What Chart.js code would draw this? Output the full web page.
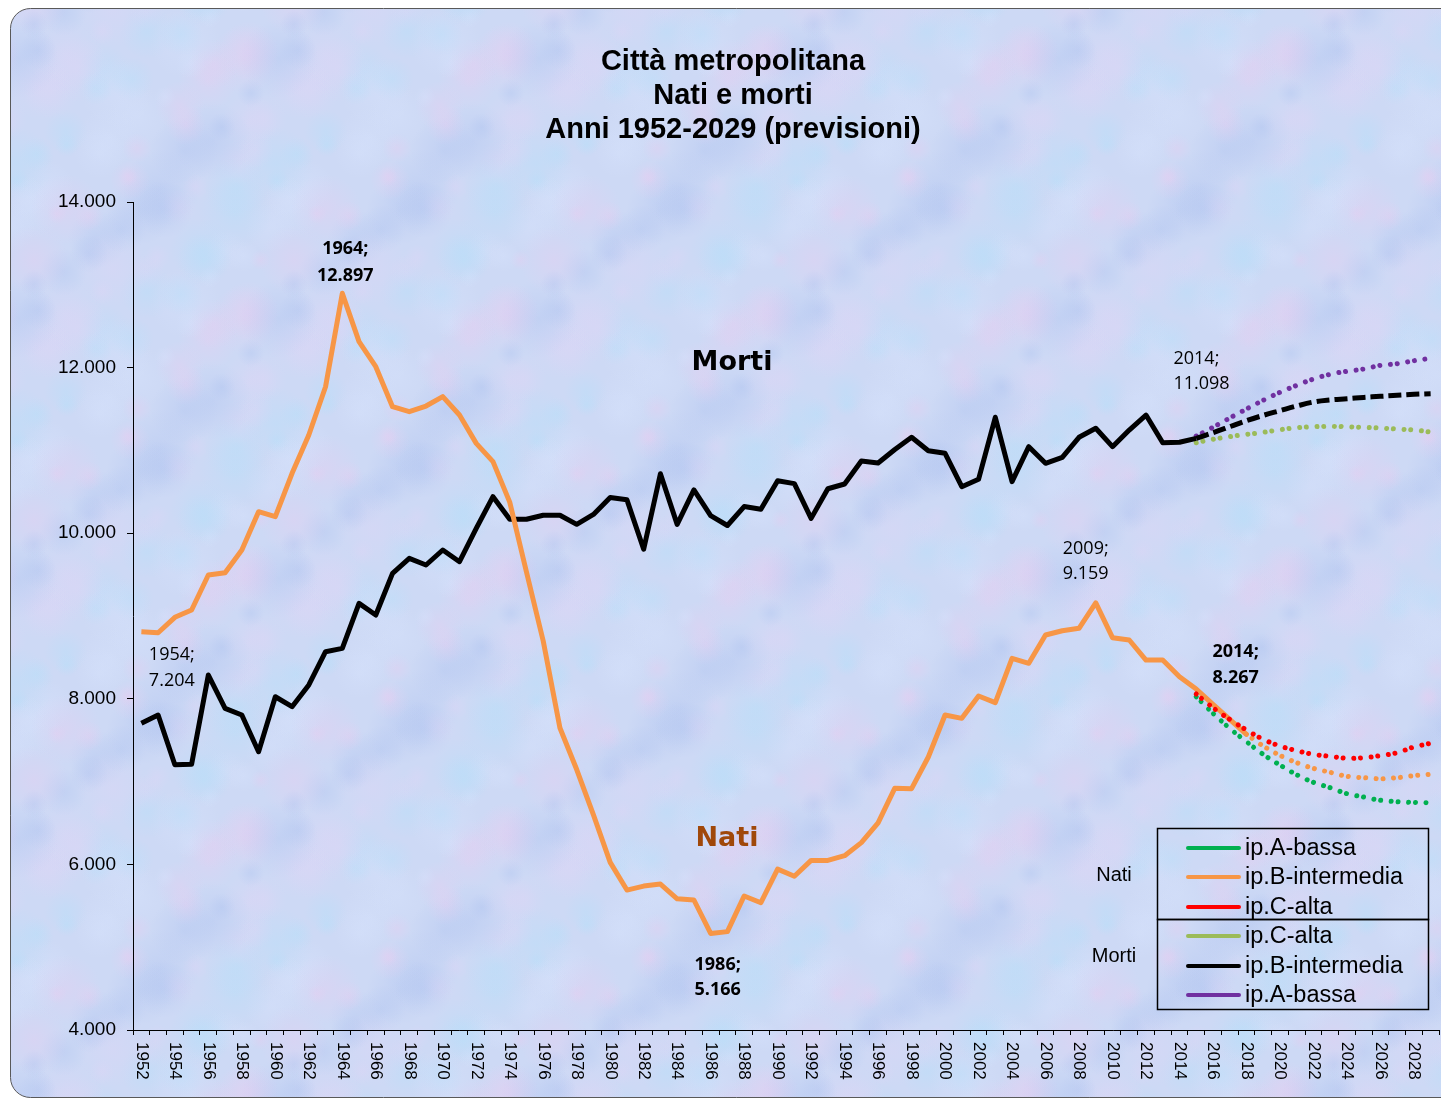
<!DOCTYPE html>
<html>
<head>
<meta charset="utf-8">
<script src="https://cdn.jsdelivr.net/npm/chart.js@4.4.1/dist/chart.umd.min.js"></script>
<style>
  html, body { margin: 0; padding: 0; background: #fff; }
  canvas { display: block; }
</style>
</head>
<body>
<canvas id="chart" width="1441" height="1098"></canvas>
<script>
// categories: one per year, 1952-2029
const years = Array.from({ length: 78 }, (_, i) => String(1952 + i));

// Nati, solid line 1952-2018
const natiStorici = [
  8810, 8798, 8984, 9072, 9495, 9523, 9797, 10260, 10200, 10723,
  11186, 11769, 12897, 12313, 12011, 11528, 11468, 11536, 11649, 11427,
  11085, 10864, 10375, 9531, 8698, 7647, 7146, 6597, 6024, 5690,
  5738, 5762, 5584, 5570, 5166, 5188, 5618, 5537, 5943, 5857,
  6048, 6048, 6105, 6263, 6501, 6921, 6915, 7297, 7804, 7764,
  8034, 7953, 8489, 8429, 8770, 8822, 8851, 9159, 8738, 8710,
  8468, 8468, 8267, 8118, 7933, 7752, 7571
];

// Morti, solid line 1952-2015
const mortiStorici = [
  7704, 7804, 7204, 7210, 8287, 7885, 7804, 7361, 8025, 7905,
  8167, 8569, 8609, 9153, 9012, 9515, 9696, 9616, 9797, 9656,
  10059, 10441, 10169, 10169, 10217, 10217, 10107, 10227, 10432, 10403,
  9807, 10718, 10107, 10523, 10212, 10093, 10322, 10289, 10633, 10599,
  10179, 10537, 10594, 10871, 10848, 11010, 11158, 10996, 10965, 10562,
  10651, 11400, 10622, 11045, 10844, 10916, 11158, 11267, 11045, 11246,
  11427, 11093, 11098, 11146
];

// projections (previsioni)
const natiA = [8025, 7825, 7643, 7482, 7329, 7200, 7083, 6991, 6926, 6854, 6814, 6774, 6757, 6749, 6745];       // from 2015
const natiB = [7571, 7430, 7317, 7228, 7160, 7112, 7064, 7047, 7035, 7047, 7071, 7088];                         // from 2018
const natiC = [8058, 7893, 7752, 7623, 7511, 7430, 7373, 7329, 7305, 7281, 7289, 7313, 7349, 7418, 7462];       // from 2015
const mortiC = [11093, 11134, 11166, 11194, 11218, 11250, 11274, 11286, 11290, 11286, 11278, 11270, 11258, 11246, 11222];
const mortiB = [11146, 11214, 11286, 11359, 11423, 11480, 11536, 11584, 11609, 11624, 11640, 11653, 11665, 11677, 11685];
const mortiA = [11174, 11279, 11391, 11500, 11605, 11701, 11786, 11862, 11919, 11955, 11983, 12027, 12047, 12083, 12112];

const titleLines = ['Città metropolitana', 'Nati e morti', 'Anni 1952-2029 (previsioni)'];

// put a series on the year axis, starting at a given year
function fromYear(start, values) {
  const out = years.map(() => null);
  const offset = start - 1952;
  values.forEach((v, i) => { out[offset + i] = v; });
  return out;
}

function fmt(v) {
  return (v / 1000).toFixed(3);
}

const ARIAL = '"Liberation Sans", Arial, sans-serif';
const CALIBRI = '"Open Sans", "Noto Sans", sans-serif';

const ORANGE = '#f79646';
const GREEN = '#00b050';
const RED = '#ff0000';
const OLIVE = '#9bbb59';
const PURPLE = '#7030a0';

// round dots in pairs, like the excel dotted style
const dots = [0.01, 6.8, 0.01, 10.6];

function makeTexture() {
  const size = 260;
  const c = document.createElement('canvas');
  c.width = size;
  c.height = size;
  const g = c.getContext('2d');
  g.fillStyle = '#cdd9f5';
  g.fillRect(0, 0, size, size);
  const tints = [[234, 204, 240, 0.35], [178, 224, 250, 0.35], [165, 188, 238, 0.28], [214, 226, 252, 0.4], [226, 212, 246, 0.3]];
  for (let i = 0; i < 70; i++) {
    const cx = (i * 97 + (i * i * 7) % 31) % size;
    const cy = (i * 59 + (i * i * 13) % 43) % size;
    const r = 10 + (i * 17) % 30;
    const t = tints[i % 5];
    for (const ox of [-size, 0, size]) {
      for (const oy of [-size, 0, size]) {
        const gr = g.createRadialGradient(cx + ox, cy + oy, 0, cx + ox, cy + oy, r);
        gr.addColorStop(0, `rgba(${t[0]},${t[1]},${t[2]},${t[3]})`);
        gr.addColorStop(1, `rgba(${t[0]},${t[1]},${t[2]},0)`);
        g.fillStyle = gr;
        g.fillRect(cx + ox - r, cy + oy - r, 2 * r, 2 * r);
      }
    }
  }
  return c;
}
const texture = makeTexture();

const backgroundPlugin = {
  id: 'sfondo',
  beforeDraw(chart) {
    const ctx = chart.ctx;
    ctx.save();
    ctx.fillStyle = '#ffffff';
    ctx.fillRect(0, 0, chart.width, chart.height);
    ctx.beginPath();
    ctx.roundRect(10.5, 8.5, chart.width + 20, chart.height - 9, 20);
    ctx.fillStyle = ctx.createPattern(texture, 'repeat');
    ctx.fill();
    ctx.strokeStyle = '#595959';
    ctx.lineWidth = 1;
    ctx.stroke();
    ctx.restore();
  }
};

// point labels: which series, which year, and where the text sits around the point
const notes = [
  { year: 1964, data: natiStorici, start: 1952, bold: true, align: 'center', dx: 3, dy: [-44, -17] },
  { year: 1954, data: mortiStorici, start: 1952, bold: false, align: 'left', dx: -26, dy: [-110, -84] },
  { year: 1986, data: natiStorici, start: 1952, bold: true, align: 'center', dx: 7, dy: [31, 56] },
  { year: 2009, data: natiStorici, start: 1952, bold: false, align: 'left', dx: -33, dy: [-54, -29] },
  { year: 2014, data: mortiStorici, start: 1952, bold: false, align: 'left', dx: -6, dy: [-83, -58] },
  { year: 2014, data: natiStorici, start: 1952, bold: true, align: 'left', dx: 33, dy: [-25, 1] }
];

const legendGroups = [
  { name: 'Nati', labels: ['nati-A', 'nati-B', 'nati-C'] },
  { name: 'Morti', labels: ['morti-C', 'morti-B', 'morti-A'] }
];

const overlayPlugin = {
  id: 'overlay',
  afterDraw(chart) {
    const ctx = chart.ctx;
    const xs = chart.scales.x;
    const ys = chart.scales.y;
    ctx.save();
    ctx.textBaseline = 'middle';

    // title
    ctx.fillStyle = '#000';
    ctx.textAlign = 'center';
    ctx.font = `bold 29px ${ARIAL}`;
    titleLines.forEach((t, i) => ctx.fillText(t, 733, 62 + i * 34));

    // year labels, rotated to read top-down
    ctx.font = `17px ${ARIAL}`;
    ctx.textAlign = 'left';
    years.forEach((y, i) => {
      if (i % 2) return;
      ctx.save();
      ctx.translate(xs.getPixelForValue(i), xs.top + 12);
      ctx.rotate(Math.PI / 2);
      ctx.fillText(y, 0, 0);
      ctx.restore();
    });

    // data labels
    notes.forEach(n => {
      const v = n.data[n.year - n.start];
      const px = xs.getPixelForValue(n.year - 1952) + n.dx;
      const py = ys.getPixelForValue(v);
      ctx.font = `${n.bold ? 'bold ' : ''}18px ${CALIBRI}`;
      ctx.textAlign = n.align;
      ctx.fillText(n.year + ';', px, py + n.dy[0]);
      ctx.fillText(fmt(v), px, py + n.dy[1]);
    });

    // series names
    ctx.textAlign = 'center';
    ctx.font = `bold 27px "DejaVu Sans", Verdana, sans-serif`;
    ctx.fillStyle = '#000';
    ctx.fillText('Morti', 732, 363);
    ctx.fillStyle = '#a0480a';
    ctx.fillText('Nati', 727, 839);

    // two-box legend
    const boxX = 1157.5, boxW = 271;
    const boxes = [[828.5, 91], [919.5, 90]];
    ctx.strokeStyle = '#000';
    ctx.lineWidth = 1.5;
    boxes.forEach(b => ctx.strokeRect(boxX, b[0], boxW, b[1]));
    const rowY = [[848, 877, 907], [936, 966, 995]];
    const sideY = [875, 956];
    legendGroups.forEach((grp, gi) => {
      ctx.fillStyle = '#000';
      ctx.font = `20px ${ARIAL}`;
      ctx.textAlign = 'center';
      ctx.fillText(grp.name, 1114, sideY[gi]);
      grp.labels.forEach((key, ri) => {
        const ds = chart.data.datasets.find(d => d.key === key);
        const y = rowY[gi][ri];
        ctx.beginPath();
        ctx.moveTo(1188, y);
        ctx.lineTo(1239, y);
        ctx.strokeStyle = ds.borderColor;
        ctx.lineWidth = 4;
        ctx.lineCap = 'round';
        ctx.stroke();
        ctx.fillStyle = '#000';
        ctx.font = `23.5px ${ARIAL}`;
        ctx.textAlign = 'left';
        ctx.fillText(ds.label, 1245, y + 1);
      });
    });

    ctx.restore();
  }
};

const solid = { borderWidth: 5, pointRadius: 0, tension: 0, fill: false, borderJoinStyle: 'round' };
const forecast = { borderWidth: 5, pointRadius: 0, tension: 0.4, fill: false, borderCapStyle: 'round' };

new Chart(document.getElementById('chart'), {
  type: 'line',
  data: {
    labels: years,
    datasets: [
      { ...forecast, key: 'nati-C', label: 'ip.C-alta', data: fromYear(2015, natiC), borderColor: RED, borderDash: dots },
      { ...solid, key: 'nati', label: 'Nati', data: fromYear(1952, natiStorici), borderColor: ORANGE },
      { ...forecast, key: 'nati-A', label: 'ip.A-bassa', data: fromYear(2015, natiA), borderColor: GREEN, borderDash: dots },
      { ...forecast, key: 'nati-B', label: 'ip.B-intermedia', data: fromYear(2018, natiB), borderColor: ORANGE, borderDash: dots },
      { ...solid, key: 'morti', label: 'Morti', data: fromYear(1952, mortiStorici), borderColor: '#000' },
      { ...forecast, key: 'morti-B', label: 'ip.B-intermedia', data: fromYear(2015, mortiB), borderColor: '#000', borderDash: [13, 5], borderCapStyle: 'butt' },
      { ...forecast, key: 'morti-A', label: 'ip.A-bassa', data: fromYear(2015, mortiA), borderColor: PURPLE, borderDash: dots },
      { ...forecast, key: 'morti-C', label: 'ip.C-alta', data: fromYear(2015, mortiC), borderColor: OLIVE, borderDash: dots }
    ]
  },
  options: {
    responsive: false,
    animation: false,
    devicePixelRatio: 1,
    layout: { padding: { top: 202, right: 2, bottom: 0, left: 0 } },
    plugins: {
      legend: { display: false },
      tooltip: { enabled: false },
      title: { display: false }
    },
    scales: {
      x: {
        offset: true,
        grid: { display: true, offset: true, drawOnChartArea: false, tickLength: 5, color: '#000' },
        border: { color: '#000', width: 1 },
        ticks: { display: false, autoSkip: false },
        afterFit(scale) { scale.height = 68; }
      },
      y: {
        min: 4000,
        max: 14000,
        ticks: {
          stepSize: 2000,
          callback: v => fmt(v),
          color: '#000',
          padding: 11,
          font: { family: ARIAL, size: 19 }
        },
        grid: { drawOnChartArea: false, tickLength: 6, color: '#000' },
        border: { color: '#000', width: 1 },
        afterFit(scale) { scale.width = 133; }
      }
    }
  },
  plugins: [backgroundPlugin, overlayPlugin]
});
</script>
</body>
</html>
